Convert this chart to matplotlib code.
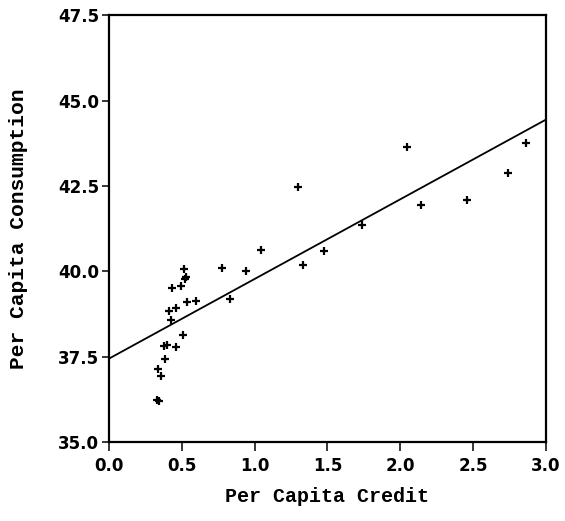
import matplotlib
matplotlib.use('Agg')
import matplotlib.pyplot as plt
import numpy as np

# per capita credit vs per capita consumption
credit = [0.327, 0.345, 0.338, 0.355, 0.382, 0.380, 0.400, 0.460, 0.506,
          0.423, 0.412, 0.458, 0.533, 0.600, 0.828, 0.435, 0.492, 0.524,
          0.530, 0.515, 0.773, 0.940, 1.045, 1.295, 1.329, 1.478, 1.739,
          2.050, 2.144, 2.459, 2.741, 2.862]
consumption = [36.24, 36.20, 37.14, 36.95, 37.43, 37.81, 37.86, 37.78, 38.13,
               38.58, 38.84, 38.94, 39.11, 39.13, 39.19, 39.52, 39.58, 39.77,
               39.83, 40.06, 40.10, 40.02, 40.64, 42.47, 40.20, 40.61, 41.36,
               43.63, 41.94, 42.10, 42.89, 43.77]

# fitted line
fit_x = [0.0, 3.0]
fit_intercept = 37.45
fit_slope = 2.33

x_ticks = [0.0, 0.5, 1.0, 1.5, 2.0, 2.5, 3.0]
y_ticks = [35.0, 37.5, 40.0, 42.5, 45.0, 47.5]

fig = plt.figure(figsize=(5.65, 5.21), dpi=100)
ax = fig.add_axes([0.193, 0.151, 0.773, 0.820])

ax.plot(credit, consumption, linestyle='none', marker='+', color='black',
        markersize=6, markeredgewidth=1.6)
fit_y = [fit_intercept + fit_slope * v for v in fit_x]
ax.plot(fit_x, fit_y, color='black', linewidth=1.3)

ax.set_xlim(0.0, 3.0)
ax.set_ylim(35.0, 47.5)
ax.set_xticks(x_ticks)
ax.set_yticks(y_ticks)
ax.set_xticklabels([f"{v:.1f}" for v in x_ticks])
ax.set_yticklabels([f"{v:.1f}" for v in y_ticks])

for lab in ax.get_xticklabels() + ax.get_yticklabels():
    lab.set_fontfamily('DejaVu Sans')
    lab.set_fontweight('bold')
    lab.set_fontsize(12)

ax.tick_params(axis='both', direction='out', width=1.1, color='black')
ax.tick_params(axis='x', length=6.5, pad=4)
ax.tick_params(axis='y', length=5, pad=2)

for sp in ax.spines.values():
    sp.set_linewidth(1.6)
    sp.set_color('black')

ax.set_xlabel("Per Capita Credit", family='Liberation Mono', weight='bold',
              size=14.4, labelpad=9)
ax.set_ylabel("Per Capita Consumption", family='Liberation Mono', weight='bold',
              size=15.3, labelpad=22)

fig.savefig("out.png", dpi=100, facecolor="white")
plt.close(fig)
